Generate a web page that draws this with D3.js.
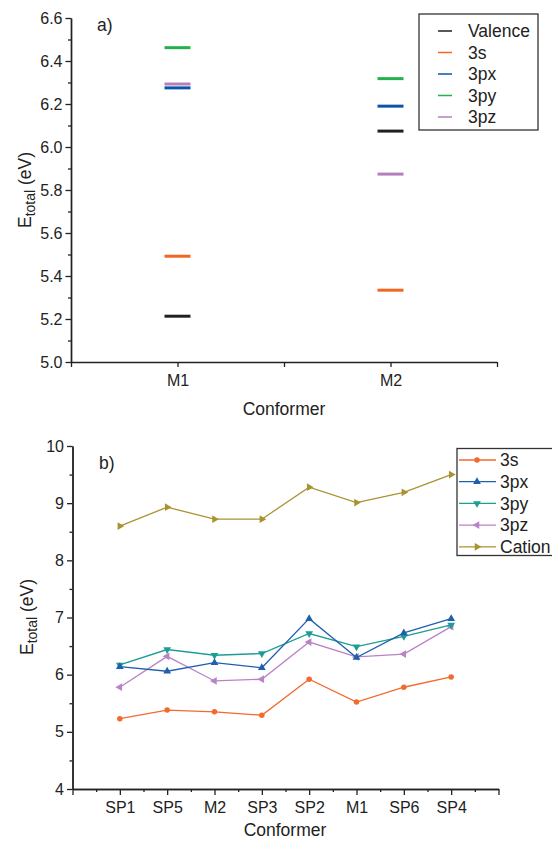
<!DOCTYPE html>
<html>
<head>
<meta charset="utf-8">
<script src="https://cdn.jsdelivr.net/npm/d3@7"></script>
<style>
  html, body { margin: 0; padding: 0; background: #fff; }
  svg { display: block; font-family: "Liberation Sans", Arial, sans-serif; }
</style>
</head>
<body>
<svg id="chart" width="552" height="842"></svg>
<script>
// ---------- Data: panel a ----------
const topCategories = ["M1", "M2"];
const topCategoryX = [1, 2];
const topSeries = ["Valence", "3s", "3px", "3py", "3pz"];
const topColors = ["#231f20", "#f26522", "#0b55a6", "#22b24c", "#b57fbd"];
const topValuesM1 = [5.213, 5.492, 6.275, 6.462, 6.293];
const topValuesM2 = [6.074, 5.334, 6.190, 6.318, 5.874];
const topYTicks = [5.0, 5.2, 5.4, 5.6, 5.8, 6.0, 6.2, 6.4, 6.6];
const topYMinor = [5.1, 5.3, 5.5, 5.7, 5.9, 6.1, 6.3, 6.5];
const topXTicks = [0.5, 1, 1.5, 2, 2.5];

// ---------- Data: panel b ----------
const botCategories = ["SP1", "SP5", "M2", "SP3", "SP2", "M1", "SP6", "SP4"];
const botSeries = ["3s", "3px", "3py", "3pz", "Cation"];
const botColors = ["#f26a2e", "#1f5fae", "#1b9e93", "#b983c8", "#a99330"];
const vals3s     = [5.23, 5.38, 5.35, 5.29, 5.92, 5.52, 5.78, 5.96];
const vals3px    = [6.14, 6.06, 6.21, 6.12, 6.98, 6.30, 6.73, 6.98];
const vals3py    = [6.17, 6.44, 6.34, 6.37, 6.72, 6.49, 6.67, 6.87];
const vals3pz    = [5.78, 6.32, 5.89, 5.92, 6.57, 6.31, 6.36, 6.84];
const valsCation = [8.60, 8.93, 8.72, 8.72, 9.28, 9.01, 9.19, 9.50];
const botYTicks = [4, 5, 6, 7, 8, 9, 10];
const botYMinor = [4.5, 5.5, 6.5, 7.5, 8.5, 9.5];
const botXTicks = [0, 1, 2, 3, 4, 5, 6, 7, 8, 9];
const botXMinor = [0.5, 1.5, 2.5, 3.5, 4.5, 5.5, 6.5, 7.5, 8.5];

const svg = d3.select("#chart");
const AX = "#222";

function styleAxis(g) {
  g.selectAll("path").attr("stroke", AX).attr("stroke-width", 1.4);
  g.selectAll("line").attr("stroke", AX).attr("stroke-width", 1.3);
  g.selectAll("text").attr("fill", "#222").style("font-size", "16px")
    .attr("font-family", "'Liberation Sans', Arial, sans-serif");
}

function yLabel(cx, cy) {
  const t = svg.append("text")
    .attr("transform", `translate(${cx},${cy}) rotate(-90)`)
    .attr("text-anchor", "middle")
    .attr("fill", "#222")
    .style("font-size", "17.5px");
  t.append("tspan").text("E");
  t.append("tspan").text("total").style("font-size", "14px").attr("dy", 4);
  t.append("tspan").text(" (eV)").attr("dy", -4);
}

// ================= Panel a =================
{
  const x = d3.scaleLinear().domain([0.5, 2.5]).range([71, 497]);
  const y = d3.scaleLinear().domain([5.0, 6.6]).range([362, 18]);

  svg.append("g").attr("transform", "translate(71,0)")
    .call(d3.axisLeft(y).tickValues(topYMinor).tickSize(3).tickFormat("").tickSizeOuter(0))
    .call(styleAxis);
  svg.append("g").attr("transform", "translate(71,0)")
    .call(d3.axisLeft(y).tickValues(topYTicks).tickSize(5.5).tickPadding(3)
      .tickFormat(d3.format(".1f")).tickSizeOuter(0))
    .call(styleAxis);
  svg.append("g").attr("transform", "translate(0,362)")
    .call(d3.axisBottom(x).tickValues(topXTicks).tickSize(5).tickPadding(8).tickSizeOuter(0)
      .tickFormat(d => { const i = topCategoryX.indexOf(d); return i >= 0 ? topCategories[i] : ""; }))
    .call(styleAxis);

  const rows = [];
  topSeries.forEach((s, i) => {
    rows.push({ s, c: topColors[i], x: topCategoryX[0], v: topValuesM1[i] });
    rows.push({ s, c: topColors[i], x: topCategoryX[1], v: topValuesM2[i] });
  });
  const halfW = 13;
  svg.append("g").selectAll("line").data(rows).join("line")
    .attr("x1", d => x(d.x) - halfW).attr("x2", d => x(d.x) + halfW)
    .attr("y1", d => y(d.v)).attr("y2", d => y(d.v))
    .attr("stroke", d => d.c).attr("stroke-width", 3);

  svg.append("text").attr("x", 97).attr("y", 31).attr("fill", "#222")
    .style("font-size", "17.5px").text("a)");

  svg.append("text").attr("x", 284).attr("y", 415).attr("text-anchor", "middle")
    .attr("fill", "#222").style("font-size", "17.5px").text("Conformer");
  yLabel(31, 190);

  const lg = svg.append("g");
  lg.append("rect").attr("x", 419).attr("y", 14).attr("width", 119).attr("height", 116)
    .attr("fill", "#fff").attr("stroke", "#333").attr("stroke-width", 1.3);
  topSeries.forEach((s, i) => {
    const cy = 31 + i * 21.5;
    lg.append("line").attr("x1", 438).attr("x2", 452).attr("y1", cy).attr("y2", cy)
      .attr("stroke", topColors[i]).attr("stroke-width", 1.5);
    lg.append("text").attr("x", 468).attr("y", cy + 6.3).attr("fill", "#222")
      .style("font-size", "17.5px").text(s);
  });
}

// ================= Panel b =================
{
  const x = d3.scaleLinear().domain([0, 9]).range([72.5, 498.5]);
  const y = d3.scaleLinear().domain([4, 10]).range([789, 446]);

  svg.append("g").attr("transform", "translate(72.5,0)")
    .call(d3.axisLeft(y).tickValues(botYMinor).tickSize(3).tickFormat("").tickSizeOuter(0))
    .call(styleAxis);
  svg.append("g").attr("transform", "translate(72.5,0)")
    .call(d3.axisLeft(y).tickValues(botYTicks).tickSize(5.5).tickPadding(3)
      .tickFormat(d3.format("d")).tickSizeOuter(0))
    .call(styleAxis);
  svg.append("g").attr("transform", "translate(0,789)")
    .call(d3.axisBottom(x).tickValues(botXMinor).tickSize(3).tickFormat("").tickSizeOuter(0))
    .call(styleAxis);
  svg.append("g").attr("transform", "translate(0,789)")
    .call(d3.axisBottom(x).tickValues(botXTicks).tickSize(6).tickPadding(7).tickSizeOuter(0)
      .tickFormat(d => (d >= 1 && d <= botCategories.length) ? botCategories[d - 1] : ""))
    .call(styleAxis);

  const seriesVals = [vals3s, vals3px, vals3py, vals3pz, valsCation];
  const symbols = [
    { t: d3.symbolCircle, r: 0, size: 24 },
    { t: d3.symbolTriangle, r: 0, size: 26 },
    { t: d3.symbolTriangle, r: 180, size: 26 },
    { t: d3.symbolTriangle, r: -90, size: 26 },
    { t: d3.symbolTriangle, r: 90, size: 26 }
  ];
  const line = d3.line().x((d, i) => x(i + 1)).y(d => y(d));

  const drawOrder = [4, 0, 3, 2, 1];
  drawOrder.forEach(k => {
    const g = svg.append("g");
    g.append("path").datum(seriesVals[k]).attr("d", line)
      .attr("fill", "none").attr("stroke", botColors[k]).attr("stroke-width", 1.3);
    const sym = d3.symbol().type(symbols[k].t).size(symbols[k].size);
    g.selectAll("path.pt").data(seriesVals[k]).join("path").attr("class", "pt")
      .attr("d", sym())
      .attr("transform", (d, i) => `translate(${x(i + 1)},${y(d)}) rotate(${symbols[k].r})`)
      .attr("fill", botColors[k]);
  });

  svg.append("text").attr("x", 99).attr("y", 469).attr("fill", "#222")
    .style("font-size", "17.5px").text("b)");
  svg.append("text").attr("x", 285).attr("y", 836).attr("text-anchor", "middle")
    .attr("fill", "#222").style("font-size", "17.5px").text("Conformer");
  yLabel(33, 617);

  const lg = svg.append("g");
  lg.append("rect").attr("x", 457).attr("y", 448.5).attr("width", 110).attr("height", 107)
    .attr("fill", "#fff").attr("stroke", "#333").attr("stroke-width", 1.3);
  botSeries.forEach((s, k) => {
    const cy = 460 + k * 21.7;
    lg.append("line").attr("x1", 459).attr("x2", 496).attr("y1", cy).attr("y2", cy)
      .attr("stroke", botColors[k]).attr("stroke-width", 1.3);
    lg.append("path").attr("d", d3.symbol().type(symbols[k].t).size(symbols[k].size)())
      .attr("transform", `translate(477,${cy}) rotate(${symbols[k].r})`)
      .attr("fill", botColors[k]);
    lg.append("text").attr("x", 500).attr("y", cy + 6.3).attr("fill", "#222")
      .style("font-size", "17.5px").text(s);
  });
}
</script>
</body>
</html>
